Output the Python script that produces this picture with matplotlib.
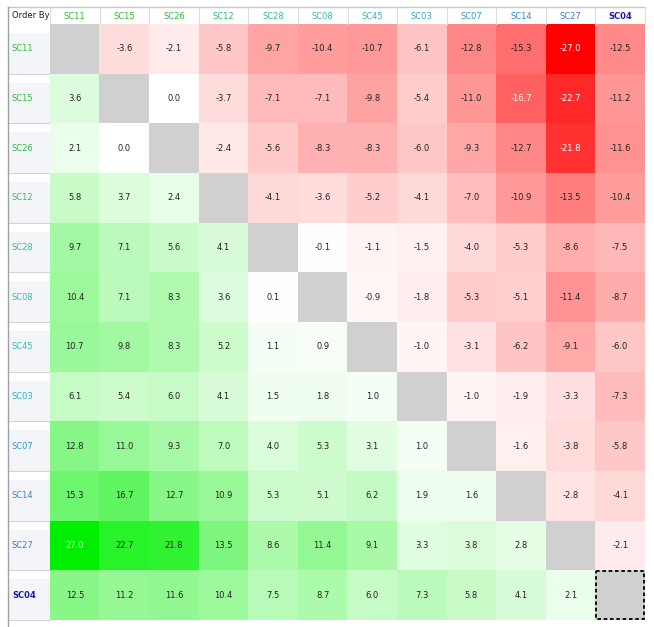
import numpy as np
import matplotlib
matplotlib.use("Agg")
import matplotlib.pyplot as plt
from matplotlib.patches import Rectangle

# labels (same order for rows and columns)
labels = ["SC11", "SC15", "SC26", "SC12", "SC28", "SC08",
          "SC45", "SC03", "SC07", "SC14", "SC27", "SC04"]
label_colors = ["#33bb33", "#33bb33", "#33bb44", "#33bb66", "#33bb99", "#33bbaa",
                "#33bbbb", "#33aacc", "#3399cc", "#3388cc", "#4477cc", "#1a1aaa"]

nan = np.nan
values = np.array([
    [nan, -3.6, -2.1, -5.8, -9.7, -10.4, -10.7, -6.1, -12.8, -15.3, -27.0, -12.5],
    [3.6, nan, 0.0, -3.7, -7.1, -7.1, -9.8, -5.4, -11.0, -16.7, -22.7, -11.2],
    [2.1, 0.0, nan, -2.4, -5.6, -8.3, -8.3, -6.0, -9.3, -12.7, -21.8, -11.6],
    [5.8, 3.7, 2.4, nan, -4.1, -3.6, -5.2, -4.1, -7.0, -10.9, -13.5, -10.4],
    [9.7, 7.1, 5.6, 4.1, nan, -0.1, -1.1, -1.5, -4.0, -5.3, -8.6, -7.5],
    [10.4, 7.1, 8.3, 3.6, 0.1, nan, -0.9, -1.8, -5.3, -5.1, -11.4, -8.7],
    [10.7, 9.8, 8.3, 5.2, 1.1, 0.9, nan, -1.0, -3.1, -6.2, -9.1, -6.0],
    [6.1, 5.4, 6.0, 4.1, 1.5, 1.8, 1.0, nan, -1.0, -1.9, -3.3, -7.3],
    [12.8, 11.0, 9.3, 7.0, 4.0, 5.3, 3.1, 1.0, nan, -1.6, -3.8, -5.8],
    [15.3, 16.7, 12.7, 10.9, 5.3, 5.1, 6.2, 1.9, 1.6, nan, -2.8, -4.1],
    [27.0, 22.7, 21.8, 13.5, 8.6, 11.4, 9.1, 3.3, 3.8, 2.8, nan, -2.1],
    [12.5, 11.2, 11.6, 10.4, 7.5, 8.7, 6.0, 7.3, 5.8, 4.1, 2.1, nan],
])

n = len(labels)
vmax = np.nanmax(np.abs(values))

# build cell colours: white -> red for negative, white -> green for positive
rgb = np.zeros((n, n, 3))
for i in range(n):
    for j in range(n):
        v = values[i, j]
        if np.isnan(v):
            rgb[i, j] = (0.816, 0.816, 0.816)
            continue
        t = min(abs(v) / vmax, 1.0)
        if v < 0:
            rgb[i, j] = (1.0, 1 - t, 1 - t)
        else:
            rgb[i, j] = (1 - t, 1 - 0.06 * t, 1 - t)

W, H = 654, 627
fig = plt.figure(figsize=(W / 100, H / 100), dpi=100)

# chrome axes in pixel coordinates
bg = fig.add_axes([0, 0, 1, 1])
bg.set_xlim(0, W)
bg.set_ylim(H, 0)
bg.axis("off")

left, right, top, bottom = 50, 645, 24, 620
head_top = 7
row_h = (bottom - top) / n
col_w = (right - left) / n

# row header backgrounds
for i in range(n):
    y0 = top + i * row_h
    bg.add_patch(Rectangle((8, y0), left - 8, row_h, facecolor="#f3f5f8", edgecolor="none"))
    bg.add_patch(Rectangle((8, y0), left - 8, row_h * 0.18, facecolor="white", edgecolor="none"))
    bg.plot([8, left], [y0 + row_h, y0 + row_h], color="#d4d4d4", lw=0.8)
    bg.text(12, y0 + row_h / 2, labels[i], color=label_colors[i], fontsize=6,
            fontweight="bold" if i == n - 1 else "normal", va="center", ha="left")

# header row
bg.plot([8, right], [head_top, head_top], color="#c8c8c8", lw=1)
bg.plot([8, 8], [head_top, H], color="#a0a0a0", lw=1)
bg.plot([right, right], [head_top, top], color="#dddddd", lw=0.8)
bg.plot([left, left], [head_top, top], color="#dddddd", lw=0.8)
bg.text(12, (head_top + top) / 2 + 0.5, "Order By", fontsize=6, color="#222222",
        va="center", ha="left")

# heatmap axes
ax = fig.add_axes([left / W, 1 - bottom / H, (right - left) / W, (bottom - top) / H])
ax.imshow(rgb, extent=(0, n, n, 0), aspect="auto", interpolation="nearest")
ax.set_xlim(0, n)
ax.set_ylim(n, 0)
ax.axis("off")

for j in range(n):
    ax.plot([j + 1, j + 1], [-(top - head_top) / row_h, 0], color="#dddddd", lw=0.8,
            clip_on=False)
    ax.text(j + 0.5, -(top - head_top) / row_h / 2 + 0.02, labels[j], color=label_colors[j],
            fontsize=6, fontweight="bold" if j == n - 1 else "normal",
            ha="center", va="center", clip_on=False)

for i in range(n):
    for j in range(n):
        v = values[i, j]
        if np.isnan(v):
            continue
        white = v <= -16 or v >= 25
        ax.text(j + 0.5, i + 0.5, f"{v:.1f}", ha="center", va="center", fontsize=6,
                color="white" if white else "#222222")

# selected cell outline
ax.add_patch(Rectangle((n - 1 + 0.02, n - 1 + 0.02), 0.96, 0.96, fill=False,
                       edgecolor="black", lw=1.3, linestyle=(0, (2, 1.5))))

fig.savefig("out.png", dpi=100)
